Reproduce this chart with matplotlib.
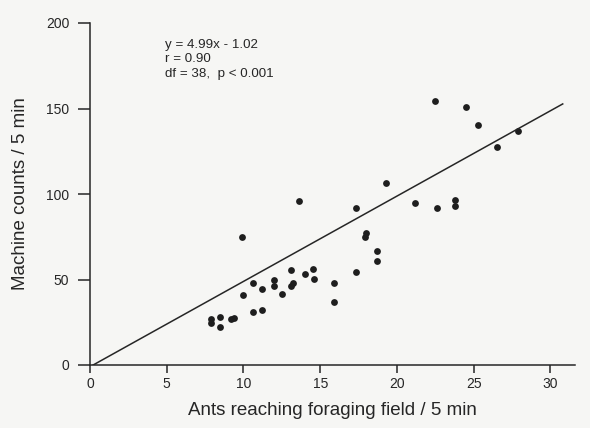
import matplotlib
matplotlib.use("Agg")
import matplotlib.pyplot as plt
import numpy as np

plt.rcParams['font.family'] = ['Liberation Sans', 'DejaVu Sans']

# Ants reaching foraging field vs. machine counts, per 5 min
ants = [7.9, 7.9, 8.5, 8.5, 9.2, 9.4, 9.9, 10.0, 10.6, 10.6,
        11.2, 11.2, 12.0, 12.0, 12.5, 13.1, 13.2, 13.1, 13.6, 14.0,
        14.5, 14.6, 15.9, 15.9, 17.3, 17.3, 17.9, 18.0, 18.7, 18.7,
        19.3, 21.2, 22.5, 22.6, 23.8, 23.8, 24.5, 25.3, 26.5, 27.9]
counts = [26.7, 24.5, 28.1, 22.4, 26.7, 27.7, 74.7, 41.1, 47.8, 31.0,
          44.2, 32.2, 49.7, 46.0, 41.3, 55.3, 47.8, 46.0, 96.1, 53.4,
          56.1, 50.5, 48.0, 36.8, 54.6, 91.6, 75.0, 77.0, 66.7, 61.0,
          106.6, 94.7, 154.4, 91.8, 96.5, 93.0, 150.7, 140.5, 127.3, 136.8]

slope, intercept = 4.99, -1.02
fit_x = [0.2, 30.8]

x_ticks = [0, 5, 10, 15, 20, 25, 30]
y_ticks = [0, 50, 100, 150, 200]

ink = '#262626'
bg = '#f6f6f4'
fig = plt.figure(figsize=(5.9, 4.28), dpi=100, facecolor=bg)
ax = fig.add_axes([90 / 590, 63 / 428, 485 / 590, 342 / 428])
ax.set_facecolor(bg)

ax.plot(ants, counts, 'o', color='#1e1e1e', markersize=4.9, markeredgewidth=0)
fx = np.array(fit_x)
ax.plot(fx, slope * fx + intercept, color=ink, lw=1.1)

ax.set_xlim(0, 31.6)
ax.set_ylim(0, 200)
ax.set_xticks(x_ticks)
ax.set_yticks(y_ticks)
ax.spines['top'].set_visible(False)
ax.spines['right'].set_visible(False)
for s in ('left', 'bottom'):
    ax.spines[s].set_color(ink)
    ax.spines[s].set_linewidth(1.1)
ax.tick_params(axis='both', direction='out', width=1.1, color=ink,
               labelsize=10, labelcolor=ink)
ax.tick_params(axis='x', length=5.5, pad=3)
ax.tick_params(axis='y', length=9, pad=6)

ax.set_xlabel('Ants reaching foraging field / 5 min', fontsize=13.5,
              color=ink, labelpad=8)
ax.set_ylabel('Machine counts / 5 min', fontsize=13.5, color=ink,
              labelpad=12)

ax.text(4.9, 190.5, 'y = 4.99x - 1.02\nr = 0.90\ndf = 38,  p < 0.001',
        fontsize=9.6, color=ink, va='top', ha='left', linespacing=1.25)

fig.savefig('out.png', dpi=100, facecolor=bg)
